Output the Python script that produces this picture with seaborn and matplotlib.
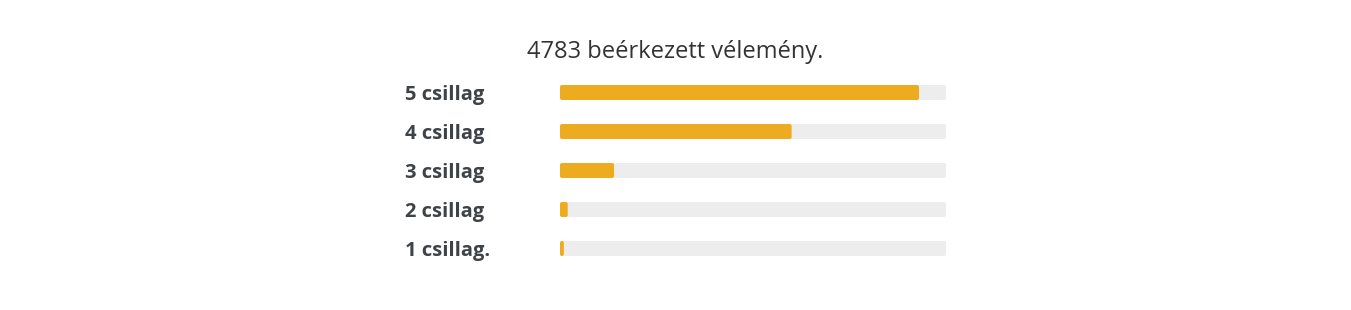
import matplotlib
matplotlib.use("Agg")
import matplotlib.pyplot as plt
from matplotlib.patches import FancyBboxPatch
import seaborn as sns
import pandas as pd

title = "4783 beérkezett vélemény."
categories = ["5 csillag", "4 csillag", "3 csillag", "2 csillag", "1 csillag."]
percent = [93, 60, 14, 2, 1]
track = [100, 100, 100, 100, 100]

sns.set_theme(style="white")
plt.rcParams['font.family'] = ['Open Sans', 'DejaVu Sans']

W, H = 1351, 310
fig = plt.figure(figsize=(W / 100, H / 100), dpi=100)
ax = fig.add_axes([560 / W, 1 - 268 / H, 386 / W, 195 / H])

df = pd.DataFrame({"cat": categories, "val": percent, "track": track})
bw = 15 / 39
sns.barplot(data=df, x="track", y="cat", color="#EDEDED", width=bw, ax=ax,
            saturation=1, edgecolor="none")
sns.barplot(data=df, x="val", y="cat", color="#EDAC1F", width=bw, ax=ax,
            saturation=1, edgecolor="none")

ax.set_xlim(0, 100)
ax.set_ylim(4.5, -0.5)

# round the bar corners (about 2 px)
px_x = 386 / 100.0   # pixels per x unit
px_y = 39.0          # pixels per y unit
r = 2.0 / px_x
aspect = px_x / px_y
for p in list(ax.patches):
    x, y = p.get_x(), p.get_y()
    w, h = p.get_width(), p.get_height()
    rr = min(r, w / 2)
    fb = FancyBboxPatch((x, y), w, h,
                        boxstyle=f"round,pad=0,rounding_size={rr}",
                        mutation_aspect=aspect,
                        facecolor=p.get_facecolor(), edgecolor="none",
                        zorder=p.get_zorder())
    p.remove()
    ax.add_patch(fb)

ax.set_xlabel("")
ax.set_ylabel("")
ax.set_xticks([])
for s in ax.spines.values():
    s.set_visible(False)
ax.tick_params(axis="y", length=0, pad=155 * 72 / 100)
for lab in ax.get_yticklabels():
    lab.set_ha("left")
    lab.set_fontweight("bold")
    lab.set_fontsize(14.5)
    lab.set_color("#3E4347")

fig.text(0.5, 1 - 52 / H, title, ha="center", va="center", fontsize=17,
         color="#333333")

fig.savefig("out.png", dpi=100)
